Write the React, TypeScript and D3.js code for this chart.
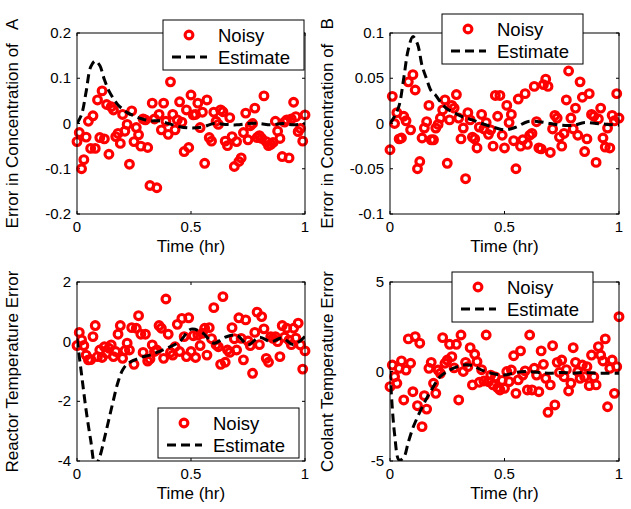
import React from 'react';
import * as d3 from 'd3';

const W = 631;
const H = 509;

// sample times of the noisy measurements (hr)
const sampleTime = [
  0, 0.01, 0.02, 0.03, 0.04, 0.05, 0.06, 0.07, 0.08, 0.09,
  0.1, 0.11, 0.12, 0.13, 0.14, 0.15, 0.16, 0.17, 0.18, 0.19,
  0.2, 0.21, 0.22, 0.23, 0.24, 0.25, 0.26, 0.27, 0.28, 0.29,
  0.3, 0.31, 0.32, 0.33, 0.34, 0.35, 0.36, 0.37, 0.38, 0.39,
  0.4, 0.41, 0.42, 0.43, 0.44, 0.45, 0.46, 0.47, 0.48, 0.49,
  0.5, 0.51, 0.52, 0.53, 0.54, 0.55, 0.56, 0.57, 0.58, 0.59,
  0.6, 0.61, 0.62, 0.63, 0.64, 0.65, 0.66, 0.67, 0.68, 0.69,
  0.7, 0.71, 0.72, 0.73, 0.74, 0.75, 0.76, 0.77, 0.78, 0.79,
  0.8, 0.81, 0.82, 0.83, 0.84, 0.85, 0.86, 0.87, 0.88, 0.89,
  0.9, 0.91, 0.92, 0.93, 0.94, 0.95, 0.96, 0.97, 0.98, 0.99,
  1,
];

// times at which the estimate curve is read
const estimateTime = [0, 0.02, 0.04, 0.06, 0.08, 0.1, 0.12, 0.14, 0.16, 0.18, 0.2, 0.22, 0.25, 0.28, 0.32, 0.36, 0.4, 0.45, 0.5, 0.55, 0.6, 0.65, 0.7, 0.75, 0.8, 0.85, 0.9, 0.95, 1];

const noisyA = [
  -0.04, -0.02, -0.1, -0.08, -0.03, 0.005, -0.055, 0.017, -0.055, 0.052,
  -0.031, 0.072, -0.034, 0.042, -0.068, 0.037, 0.03, -0.029, -0.022, -0.044,
  0.02, -0.017, -0.002, -0.09, 0.028, -0.04, -0.009, -0.025, -0.05, 0.01,
  0.008, -0.053, -0.137, 0.045, 0.01, -0.142, 0.02, -0.014, 0.045, 0.005,
  -0.024, 0.092, 0.02, -0.014, 0.008, 0.048, 0.003, -0.062, 0.03, -0.053,
  0.063, 0.019, 0.02, 0.045, -0.009, 0.025, -0.088, 0.052, -0.031, -0.039,
  0.025, 0.005, -0.002, 0.03, 0.026, -0.039, -0.049, 0.013, -0.029, -0.095,
  -0.04, -0.084, -0.076, -0.02, 0.023, -0.036, -0.005, 0.0, 0.034, -0.031,
  -0.027, -0.033, 0.061, -0.04, -0.049, -0.046, -0.042, 0.005, -0.017, -0.033,
  -0.073, 0.003, 0.008, -0.076, 0.01, 0.047, 0.015, -0.018, -0.011, -0.039,
  0.019,
];
const estimateA = [0, 0.02, 0.07, 0.125, 0.138, 0.128, 0.097, 0.072, 0.055, 0.041, 0.032, 0.024, 0.017, 0.011, 0.006, 0.006, 0.0, -0.007, -0.01, -0.008, 0.0, -0.002, -0.003, 0.0, 0.0, -0.003, 0.0, -0.003, 0.0];

const noisyB = [
  -0.029, 0.03, 0.0, 0.012, -0.017, -0.016, 0.008, 0.003, 0.046, -0.007,
  0.054, 0.037, -0.05, -0.042, -0.016, -0.005, 0.002, 0.02, -0.018, -0.018,
  -0.005, -0.001, 0.006, 0.015, 0.026, -0.044, 0.004, 0.02, 0.017, 0.032,
  0.006, -0.017, -0.005, -0.061, 0.012, 0.004, -0.015, -0.017, -0.027, -0.004,
  0.01, -0.006, 0.001, -0.012, -0.007, -0.025, 0.031, 0.008, 0.031, -0.013,
  -0.027, 0.02, 0.001, 0.01, -0.019, -0.05, 0.027, -0.025, -0.018, 0.033,
  -0.023, -0.013, -0.011, 0.041, 0.002, -0.027, -0.028, 0.043, 0.049, 0.041,
  -0.032, -0.006, 0.009, 0.006, -0.015, -0.025, -0.011, 0.026, 0.058, 0.006,
  -0.006, 0.017, -0.013, 0.046, 0.029, -0.031, -0.017, 0.033, 0.01, 0.008,
  -0.043, 0.005, 0.017, -0.016, -0.026, -0.005, -0.027, 0.009, 0.003, 0.033,
  0.006,
];
const estimateB = [0, 0.008, 0.02, 0.05, 0.082, 0.096, 0.088, 0.064, 0.049, 0.036, 0.031, 0.024, 0.016, 0.012, 0.007, 0.004, 0.0, -0.004, -0.007, -0.004, 0.002, 0.002, 0.0, -0.002, -0.002, 0.001, 0.0, -0.001, -0.002];

const noisyC = [
  -0.13, 0.31, 0.06, -0.13, -0.45, -0.61, -0.6, 0.17, 0.54, -0.5,
  -0.28, -0.53, -0.17, -0.39, -0.22, -0.11, -0.5, -0.33, 0.25, 0.54,
  -0.56, -0.3, -0.05, -0.28, 0.47, -0.76, 0.45, 0.87, 0.25, -0.36,
  0.25, -0.65, -0.58, -0.11, -0.33, -0.28, 0.54, 0.45, -0.56, 1.43,
  0.25, -0.36, -0.45, -0.17, 0.58, -0.33, 0.78, 0.17, -0.5, 0.8,
  -0.33, 0.2, -0.53, 0.22, -0.13, 0.28, 0.45, -0.45, 0.47, 0.1,
  1.14, -0.1, -0.17, -0.76, 1.51, -0.69, -0.28, -0.36, 0.47, 0.1,
  -0.28, 0.8, 0.11, -0.61, 0.73, 0.02, -0.13, -1.06, 0.31, 0.99,
  -0.1, 0.84, 0.43, -0.56, -0.69, 0.17, 0.11, 0.17, 0.0, -0.5,
  0.54, 0.15, 0.45, 0.05, -0.1, 0.45, 0.12, 0.62, -0.11, -0.92,
  -0.31,
];
const estimateC = [0.1, -1.1, -2.3, -3.3, -4.15, -3.85, -3.25, -2.6, -1.95, -1.35, -0.95, -0.75, -0.62, -0.53, -0.45, -0.33, -0.2, 0.0, 0.42, 0.3, -0.05, 0.15, 0.22, -0.1, 0.15, 0.0, 0.12, -0.1, 0.18];

const noisyD = [
  -0.85, 0.36, -0.29, -0.66, 0.18, 0.59, -1.59, 0.08, 1.82, 0.46,
  -1.13, 1.95, -1.91, 1.58, -3.08, -1.35, -2.1, 0.18, 0.51, -0.66,
  -1.22, 0.08, -0.1, 1.89, 0.46, 0.64, 1.52, 0.83, 0.2, 1.52,
  -1.59, 2.04, 0.0, 0.51, 0.27, 1.33, -0.75, 0.96, 0.55, -0.6,
  0.1, -0.53, 2.04, -0.57, -0.2, -0.75, -0.3, -0.9, -1.03, -0.5,
  -0.94, 0.0, -0.57, 0.08, 0.88, -1.22, -0.47, 1.15, -0.2, 0.03,
  -1.03, 2.04, -1.03, 0.18, -0.2, -1.13, 1.15, 0.4, -0.38, -2.28,
  -0.75, 1.44, -1.87, 0.51, -0.05, 0.64, -0.29, 0.1, -1.09, -0.66,
  1.33, 0.51, 0.0, -0.38, 0.36, -0.29, 0.27, -0.79, 0.92, -0.3,
  -0.75, 1.39, 0.92, 0.59, 1.82, -1.97, 0.18, 0.64, -1.22, 0.27,
  3.06,
];
const estimateD = [0, -3.5, -4.95, -4.8, -3.95, -3.15, -2.55, -2.0, -1.5, -1.05, -0.62, -0.27, 0.0, 0.2, 0.36, 0.33, 0.08, -0.12, -0.2, -0.05, 0.0, -0.05, -0.1, -0.05, -0.1, -0.05, -0.1, -0.1, -0.1];

const xTicks = [0, 0.5, 1];
const xTickLabels = ['0', '0.5', '1'];
const yTicksA = [0.2, 0.1, 0, -0.1, -0.2];
const yTickLabelsA = ['0.2', '0.1', '0', '-0.1', '-0.2'];
const yTicksB = [0.1, 0.05, 0, -0.05, -0.1];
const yTickLabelsB = ['0.1', '0.05', '0', '-0.05', '-0.1'];
const yTicksC = [2, 0, -2, -4];
const yTickLabelsC = ['2', '0', '-2', '-4'];
const yTicksD = [5, 0, -5];
const yTickLabelsD = ['5', '0', '-5'];

const xLabel = 'Time (hr)';
const legendLabels = ['Noisy', 'Estimate'];

const FONT = '"Liberation Sans", Arial, Helvetica, sans-serif';
const RED = '#ff0000';

type PanelCfg = {
  id: string;
  box: { l: number; r: number; t: number; b: number };
  yDomain: [number, number];
  noisy: number[];
  estimate: number[];
  yTicks: number[];
  yTickLabels: string[];
  yLabel: string;
  yLabelX: number;
  legend: { x: number; y: number };
};

const panels: PanelCfg[] = [
  { id: 'A', box: { l: 77, r: 305, t: 33, b: 214 }, yDomain: [-0.2, 0.2], noisy: noisyA, estimate: estimateA, yTicks: yTicksA, yTickLabels: yTickLabelsA, yLabel: 'Error in Concentration of   A', yLabelX: 18, legend: { x: 163, y: 20 } },
  { id: 'B', box: { l: 390, r: 619, t: 33, b: 214 }, yDomain: [-0.1, 0.1], noisy: noisyB, estimate: estimateB, yTicks: yTicksB, yTickLabels: yTickLabelsB, yLabel: 'Error in Concentration of   B', yLabelX: 333, legend: { x: 442, y: 14 } },
  { id: 'C', box: { l: 77, r: 305, t: 282, b: 461 }, yDomain: [-4, 2], noisy: noisyC, estimate: estimateC, yTicks: yTicksC, yTickLabels: yTickLabelsC, yLabel: 'Reactor Temperature Error', yLabelX: 18, legend: { x: 158, y: 408 } },
  { id: 'D', box: { l: 390, r: 619, t: 282, b: 461 }, yDomain: [-5, 5], noisy: noisyD, estimate: estimateD, yTicks: yTicksD, yTickLabels: yTickLabelsD, yLabel: 'Coolant Temperature Error', yLabelX: 333, legend: { x: 452, y: 272 } },
];

const Panel: React.FC<{ p: PanelCfg }> = ({ p }) => {
  const { l, r, t, b } = p.box;
  const x = d3.scaleLinear().domain([0, 1]).range([l, r]);
  const y = d3.scaleLinear().domain(p.yDomain).range([b, t]);
  const line = d3
    .line<number>()
    .x((_, i) => x(estimateTime[i]))
    .y((d) => y(d))
    .curve(d3.curveCatmullRom.alpha(0.5));
  const clipId = `clip-${p.id}`;
  const tick = 3;
  const lg = p.legend;
  const lgW = 141;
  const lgH = 50;
  return (
    <g>
      <defs>
        <clipPath id={clipId}>
          <rect x={l} y={t} width={r - l} height={b - t} />
        </clipPath>
      </defs>
      <rect x={l} y={t} width={r - l} height={b - t} fill="#fff" stroke="none" />
      {xTicks.map((v) => (
        <g key={`xt${v}`}>
          <line x1={x(v)} x2={x(v)} y1={b} y2={b - tick} stroke="#000" strokeWidth={1} />
          <line x1={x(v)} x2={x(v)} y1={t} y2={t + tick} stroke="#000" strokeWidth={1} />
        </g>
      ))}
      {p.yTicks.map((v) => (
        <g key={`yt${v}`}>
          <line x1={l} x2={l + tick} y1={y(v)} y2={y(v)} stroke="#000" strokeWidth={1} />
          <line x1={r} x2={r - tick} y1={y(v)} y2={y(v)} stroke="#000" strokeWidth={1} />
        </g>
      ))}
      {p.noisy.map((v, i) => (
        <circle key={i} cx={x(sampleTime[i])} cy={y(v)} r={3.9} fill="none" stroke={RED} strokeWidth={3.1} />
      ))}
      <path d={line(p.estimate) || ''} fill="none" stroke="#000" strokeWidth={3} strokeDasharray="9,5" clipPath={`url(#${clipId})`} />
      <rect x={l} y={t} width={r - l} height={b - t} fill="none" stroke="#000" strokeWidth={1} />
      {xTicks.map((v, i) => (
        <text key={`xl${v}`} x={x(v)} y={b + 18} textAnchor="middle" fontSize={15} fontFamily={FONT}>
          {xTickLabels[i]}
        </text>
      ))}
      {p.yTicks.map((v, i) => (
        <text key={`yl${v}`} x={l - 6} y={y(v) + 5} textAnchor="end" fontSize={15} fontFamily={FONT}>
          {p.yTickLabels[i]}
        </text>
      ))}
      <text x={(l + r) / 2} y={b + 37.5} textAnchor="middle" fontSize={17} fontFamily={FONT}>
        {xLabel}
      </text>
      <text
        transform={`translate(${p.yLabelX},${(t + b) / 2}) rotate(-90)`}
        textAnchor="middle"
        fontSize={17}
        fontFamily={FONT}
        style={{ whiteSpace: 'pre' }}
      >
        {p.yLabel}
      </text>
      <rect x={lg.x} y={lg.y} width={lgW} height={lgH} fill="#fff" stroke="#000" strokeWidth={1} />
      <circle cx={lg.x + 26} cy={lg.y + 15} r={3.9} fill="none" stroke={RED} strokeWidth={3.1} />
      <line x1={lg.x + 9} x2={lg.x + 44} y1={lg.y + 37} y2={lg.y + 37} stroke="#000" strokeWidth={3} strokeDasharray="9,5" />
      <text x={lg.x + 55} y={lg.y + 15 + 6.5} fontSize={18.5} fontFamily={FONT}>
        {legendLabels[0]}
      </text>
      <text x={lg.x + 55} y={lg.y + 37 + 6.5} fontSize={18.5} fontFamily={FONT}>
        {legendLabels[1]}
      </text>
    </g>
  );
};

export default function App() {
  return (
    <svg
      width={W}
      height={H}
      viewBox={`0 0 ${W} ${H}`}
      style={{ position: 'absolute', left: 0, top: 0, background: '#fff' }}
    >
      <rect x={0} y={0} width={W} height={H} fill="#fff" />
      {panels.map((p) => (
        <Panel key={p.id} p={p} />
      ))}
    </svg>
  );
}
